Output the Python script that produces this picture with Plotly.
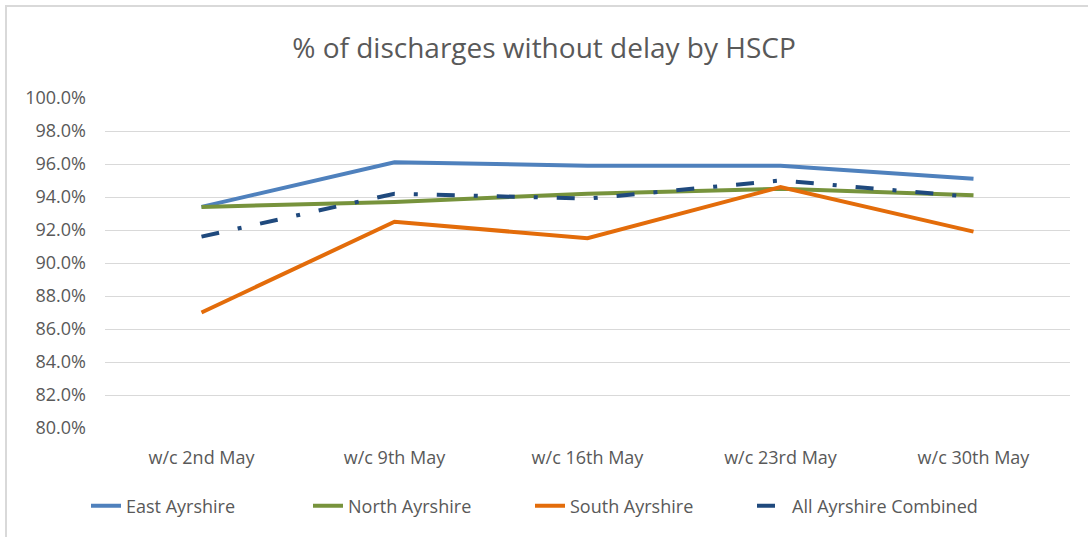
import plotly.graph_objects as go

categories = ["w/c 2nd May", "w/c 9th May", "w/c 16th May", "w/c 23rd May", "w/c 30th May"]
east = [0.934, 0.961, 0.959, 0.959, 0.951]
north = [0.934, 0.937, 0.942, 0.945, 0.941]
south = [0.870, 0.925, 0.915, 0.946, 0.919]
combined = [0.916, 0.942, 0.939, 0.950, 0.940]

FONT = "'Open Sans', Lato, sans-serif"
GREY = "#595959"

L, R, T, B = 105, 18, 98, 109
W, H = 1088, 537
PW, PH = W - L - R, H - T - B

fig = go.Figure()
fig.add_trace(go.Scatter(x=categories, y=east, name="East Ayrshire", mode="lines",
                         line=dict(color="#4F81BD", width=4)))
fig.add_trace(go.Scatter(x=categories, y=north, name="North Ayrshire", mode="lines",
                         line=dict(color="#77933C", width=4)))
fig.add_trace(go.Scatter(x=categories, y=south, name="South Ayrshire", mode="lines",
                         line=dict(color="#E36C0A", width=4)))
fig.add_trace(go.Scatter(x=categories, y=combined, name="All Ayrshire Combined", mode="lines",
                         legendwidth=230,
                         line=dict(color="#1F497D", width=4, dash="18px,19px,4px,19px")))

fig.update_layout(
    width=W, height=H,
    paper_bgcolor="white", plot_bgcolor="white",
    margin=dict(l=L, r=R, t=T, b=B),
    title=dict(text="% of discharges without delay by HSCP", x=0.5, xanchor="center",
               y=1 - 48 / H, yanchor="middle",
               font=dict(family=FONT, size=28, color=GREY)),
    font=dict(family=FONT, size=18, color=GREY),
    xaxis=dict(type="category", range=[-0.5, 4.5], showgrid=False, showline=False,
               ticks="", tickfont=dict(size=18, color=GREY), ticklabelstandoff=17),
    yaxis=dict(range=[0.80, 1.00], dtick=0.02, tickformat=".1%", showgrid=True,
               gridcolor="#D9D9D9", gridwidth=1, zeroline=False, showline=False,
               ticks="", tickfont=dict(size=18, color=GREY), ticklabelstandoff=18),
    legend=dict(orientation="h", x=(86 - L) / PW, xanchor="left",
                y=(H - B - 506) / PH, yanchor="middle",
                font=dict(size=18, color=GREY), entrywidth=177, entrywidthmode="pixels"),
    showlegend=True,
    shapes=[dict(type="rect", xref="paper", yref="paper",
                 x0=(6 - L) / PW, x1=(1120 - L) / PW,
                 y0=(H - B - 560) / PH, y1=(H - B - 6) / PH,
                 line=dict(color="#D9D9D9", width=2), fillcolor="rgba(0,0,0,0)", layer="below")],
)

fig.write_html("out.html", config={"displayModeBar": False},
               post_script="document.body.style.margin='0';document.body.style.overflow='hidden';")
